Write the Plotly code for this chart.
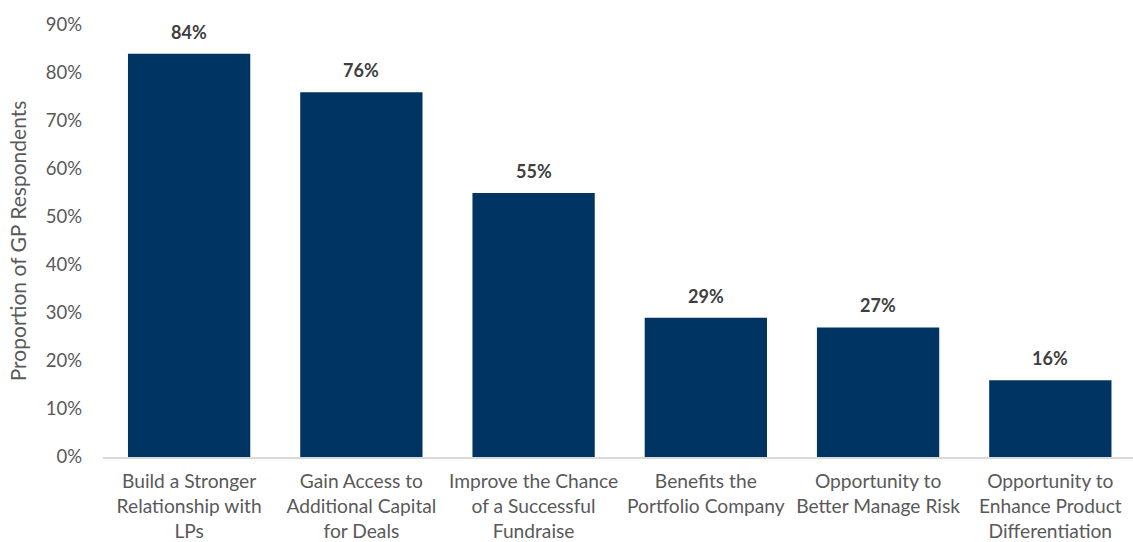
import plotly.graph_objects as go

categories = [
    "Build a Stronger<br>Relationship with<br>LPs",
    "Gain Access to<br>Additional Capital<br>for Deals",
    "Improve the Chance<br>of a Successful<br>Fundraise",
    "Benefits the<br>Portfolio Company",
    "Opportunity to<br>Better Manage Risk",
    "Opportunity to<br>Enhance Product<br>Differentiation",
]
values = [0.84, 0.76, 0.55, 0.29, 0.27, 0.16]
labels = ["84%", "76%", "55%", "29%", "27%", "16%"]
y_ticks = [0, 0.1, 0.2, 0.3, 0.4, 0.5, 0.6, 0.7, 0.8, 0.9]
y_ticktext = ["0%", "10%", "20%", "30%", "40%", "50%", "60%", "70%", "80%", "90%"]

FONT = "Lato, Calibri, Carlito, sans-serif"

xs = list(range(len(categories)))

fig = go.Figure(
    go.Bar(
        x=xs,
        y=values,
        marker=dict(color="#003462", line=dict(width=0)),
        width=0.71,
        hoverinfo="skip",
    )
)

for x, v, t in zip(xs, values, labels):
    fig.add_annotation(
        x=x, y=v, text=t, showarrow=False, yanchor="middle", yshift=22,
        font=dict(family=FONT, size=18, color="#404040", weight="bold"),
    )

fig.update_layout(
    width=1133,
    height=542,
    margin=dict(l=103, r=0, t=25, b=85),
    paper_bgcolor="white",
    plot_bgcolor="white",
    showlegend=False,
    font=dict(family=FONT, color="#595959", size=18),
    xaxis=dict(
        range=[-0.5, 5.48],
        tickvals=xs,
        ticktext=categories,
        tickangle=0,
        automargin=False,
        tickfont=dict(family=FONT, size=19.2, color="#595959"),
        showgrid=False,
        showline=True,
        linecolor="#d9d9d9",
        linewidth=2,
        ticks="",
        zeroline=False,
        ticklabelstandoff=6,
    ),
    yaxis=dict(
        range=[0, 0.9],
        tickvals=y_ticks,
        ticktext=y_ticktext,
        automargin=False,
        tickfont=dict(family=FONT, size=18.5, color="#595959"),
        showgrid=False,
        showline=False,
        zeroline=False,
        ticks="",
        ticklabelstandoff=20,
        title=dict(text="Proportion of GP Respondents", standoff=13,
                   font=dict(family=FONT, size=21, color="#595959")),
    ),
)

fig.write_html("out.html")
